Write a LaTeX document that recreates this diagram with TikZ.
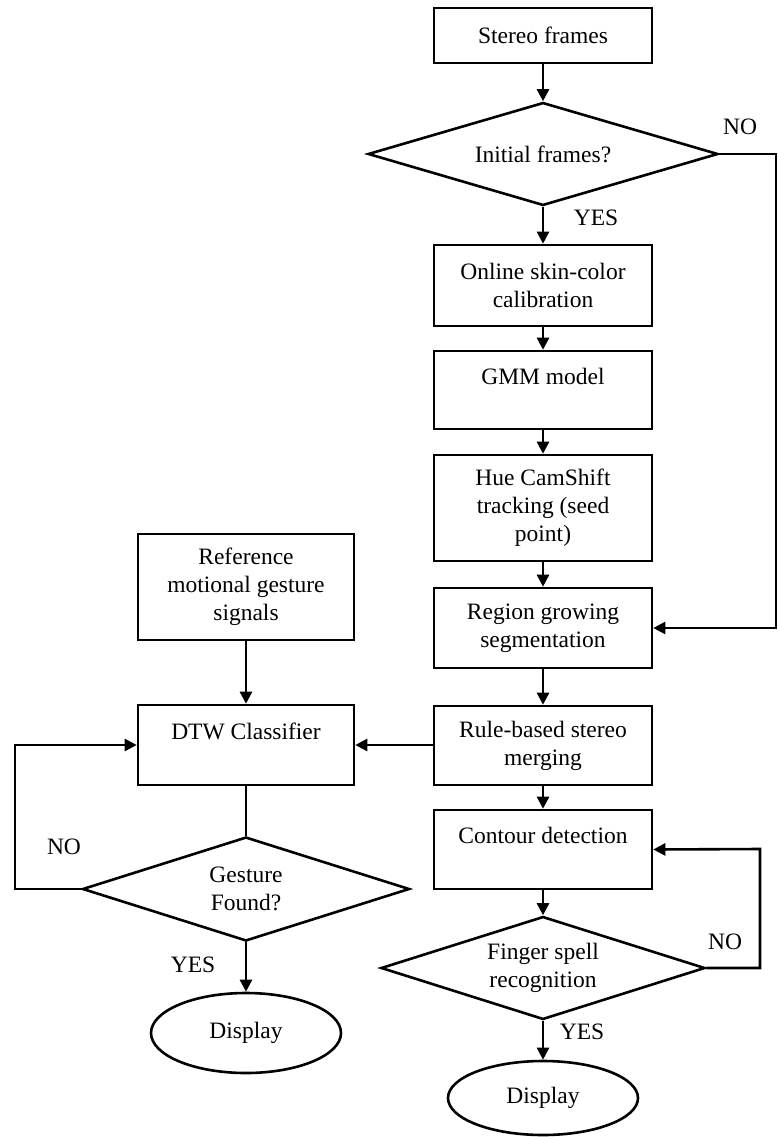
\documentclass[tikz,border=0pt]{standalone}
\usepackage{fontspec}
\setmainfont{Liberation Serif}
\usetikzlibrary{shapes.geometric,arrows.meta}
\begin{document}
\begin{tikzpicture}[x=1pt,y=-1pt,
  every node/.style={font=\fontsize{23.5}{28}\selectfont},
  box/.style={draw, line width=2.6pt, minimum width=218pt, align=center, inner sep=0pt},
  decision/.style={draw, diamond, aspect=3.4, inner sep=0pt, align=center, line width=2.6pt},
  terminal/.style={draw, ellipse, inner sep=0pt, minimum width=190pt, line width=2.6pt},
  flow/.style={line width=2.6pt, -{Triangle[length=12pt,width=12pt]}},
  link/.style={line width=2.6pt},
  lbl/.style={inner sep=0pt}
]
\useasboundingbox (0,0) rectangle (777,1137);

% right column: stereo hand pipeline
\node[box, minimum height=55pt] (stereo) at (543,35.5) {Stereo frames};
\node[decision, minimum width=350pt, minimum height=103pt] (init) at (543,154) {Initial frames?};
\node[box, minimum height=81pt] (calib) at (543,285.5) {Online skin-color\\calibration};
\node[box, minimum height=78pt] (gmm) at (543,390) {GMM model\\~};
\node[box, minimum height=106pt] (hue) at (543,508) {Hue CamShift\\tracking (seed\\point)};
\node[box, minimum height=80pt] (region) at (543,628) {Region growing\\segmentation};
\node[box, minimum height=79pt] (rule) at (543,745.5) {Rule-based stereo\\merging};
\node[box, minimum height=79pt] (contour) at (543,849.5) {Contour detection\\~};
\node[decision, minimum width=324pt, minimum height=103pt] (finger) at (543,968) {Finger spell\\recognition};
\node[terminal, minimum height=74pt] (disp2) at (543,1098) {Display};

% left column: motional gesture classification
\node[box, minimum width=216pt, minimum height=106pt] (ref) at (246,587) {Reference\\motional gesture\\signals};
\node[box, minimum width=216pt, minimum height=80pt] (dtw) at (246,745) {DTW Classifier\\~};
\node[decision, minimum width=327pt, minimum height=104pt] (gesture) at (246,889) {Gesture\\Found?};
\node[terminal, minimum height=80pt] (disp1) at (246,1033) {Display};

% branch labels
\node[lbl] (no1) at (740,127) {NO};
\node[lbl] (yes1) at (596,218) {YES};
\node[lbl] (no2) at (725,942) {NO};
\node[lbl] (yes2) at (582,1032) {YES};
\node[lbl] (no3) at (64,847) {NO};
\node[lbl] (yes3) at (193,965) {YES};

% loop-back corners
\coordinate (c1) at (776,154);
\coordinate (c2) at (776,628);
\coordinate (c3) at (760,968);
\coordinate (c4) at (760,849);
\coordinate (c5) at (15,889);
\coordinate (c6) at (15,745);

% main flow
\draw[flow] (stereo) -- (init);
\draw[flow] (init) -- (calib);
\draw[flow] (calib) -- (gmm);
\draw[flow] (gmm) -- (hue);
\draw[flow] (hue) -- (region);
\draw[flow] (region) -- (rule);
\draw[flow] (rule) -- (contour);
\draw[flow] (contour) -- (finger);
\draw[flow] (finger) -- (disp2);
\draw[flow] (init.east) -- (c1) -- (c2) -- (region.east);
\draw[flow] (finger.east) -- (c3) -- (c4) -- (contour.east);

% gesture branch
\draw[flow] (dtw.east -| rule.west) -- (dtw.east);
\draw[flow] (ref) -- (dtw);
\draw[link] (dtw) -- (gesture);
\draw[flow] (gesture.west) -- (c5) -- (c6) -- (dtw.west);
\draw[flow] (gesture) -- (disp1);
\end{tikzpicture}
\end{document}
